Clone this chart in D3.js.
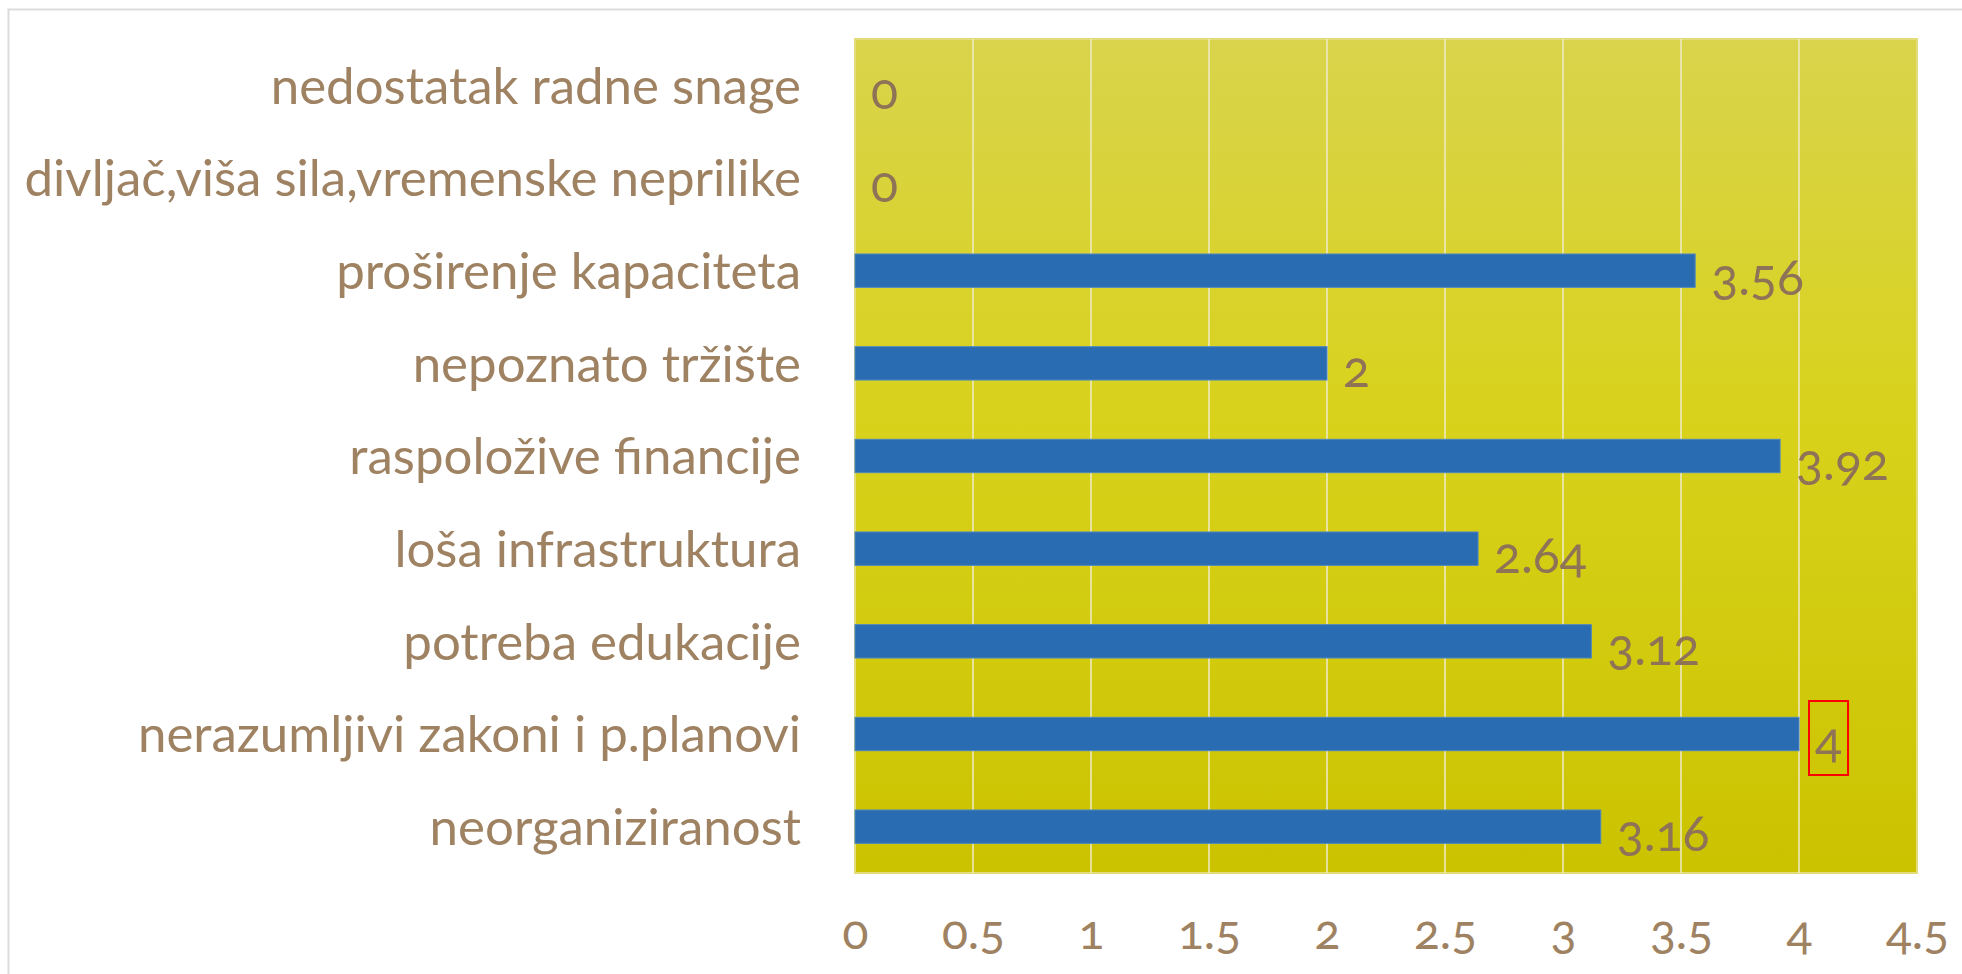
<!DOCTYPE html>
<html>
<head>
<meta charset="utf-8">
<script src="https://cdn.jsdelivr.net/npm/d3@7"></script>
<style>
  body { margin: 0; background: #ffffff; }
  text { font-family: "Lato", "Open Sans", sans-serif; font-variant-numeric: oldstyle-nums; }
</style>
</head>
<body>
<div id="chart"></div>
<script>
// Data, top to bottom
const categories = [
    "nedostatak radne snage",
    "divljač,viša sila,vremenske neprilike",
    "proširenje kapaciteta",
    "nepoznato tržište",
    "raspoložive financije",
    "loša infrastruktura",
    "potreba edukacije",
    "nerazumljivi zakoni i p.planovi",
    "neorganiziranost"
];
const values = [0, 0, 3.56, 2, 3.92, 2.64, 3.12, 4, 3.16];
const xTicks = [0, 0.5, 1, 1.5, 2, 2.5, 3, 3.5, 4, 4.5];

const svgWidth = 1962, svgHeight = 974;
const margin = { top: 39, right: 45, bottom: 101, left: 855 };
const textColor = "#9e8262";

const svg = d3.select("#chart")
    .append("svg")
    .attr("width", svgWidth)
    .attr("height", svgHeight);

// Outer chart border (only top and left are visible)
svg.append("rect")
    .attr("x", 8.5)
    .attr("y", 9.5)
    .attr("width", svgWidth + 20)
    .attr("height", svgHeight + 20)
    .attr("fill", "none")
    .attr("stroke", "#dcdcdc")
    .attr("stroke-width", 2);

// Scales
const x = d3.scaleLinear()
    .domain([0, 4.5])
    .range([margin.left, svgWidth - margin.right]);

const y = d3.scaleBand()
    .domain(categories)
    .range([margin.top, svgHeight - margin.bottom])
    .paddingInner(0.64)
    .paddingOuter(0.32);

// Plot background gradient
const grad = svg.append("defs").append("linearGradient")
    .attr("id", "bg")
    .attr("x1", 0).attr("y1", 0).attr("x2", 0).attr("y2", 1);
grad.append("stop").attr("offset", "0%").attr("stop-color", "#d9d44c");
grad.append("stop").attr("offset", "45%").attr("stop-color", "#d8d21c");
grad.append("stop").attr("offset", "100%").attr("stop-color", "#cbc300");

svg.append("rect")
    .attr("x", x(0))
    .attr("y", margin.top)
    .attr("width", x(4.5) - x(0))
    .attr("height", svgHeight - margin.bottom - margin.top)
    .attr("fill", "url(#bg)")
    .attr("stroke", "#e2dd7a")
    .attr("stroke-width", 2);

// Vertical gridlines
svg.append("g")
    .selectAll("line")
    .data(xTicks.slice(1, -1))
    .enter().append("line")
    .attr("x1", d => x(d))
    .attr("x2", d => x(d))
    .attr("y1", margin.top)
    .attr("y2", svgHeight - margin.bottom)
    .attr("stroke", "#efebc8")
    .attr("stroke-width", 1.5);

// Bars
svg.append("g")
    .selectAll("rect")
    .data(values)
    .enter().append("rect")
    .attr("x", x(0))
    .attr("y", (d, i) => y(categories[i]))
    .attr("width", d => x(d) - x(0))
    .attr("height", y.bandwidth())
    .attr("fill", "#2a6cb1")
    .attr("stroke", d => d > 0 ? "#4f86c2" : "none")
    .attr("stroke-width", 1);

// Value labels
const labels = svg.append("g")
    .selectAll("text")
    .data(values)
    .enter().append("text")
    .attr("x", d => x(d) + 16)
    .attr("y", (d, i) => y(categories[i]) + y.bandwidth() / 2)
    .attr("dy", "0.48em")
    .attr("fill", "#8f7356")
    .attr("font-size", 50)
    .text(d => d);

// Red selection box around the label of the largest value
const maxIdx = values.indexOf(d3.max(values));
const box = labels.filter((d, i) => i === maxIdx).node().getBBox();
svg.append("rect")
    .attr("x", box.x - 6)
    .attr("y", box.y - 8)
    .attr("width", box.width + 12)
    .attr("height", box.height + 14)
    .attr("fill", "none")
    .attr("stroke", "#ff0000")
    .attr("stroke-width", 2);

// Y axis (category labels)
const yAxis = svg.append("g")
    .attr("transform", `translate(${margin.left}, 0)`)
    .call(d3.axisLeft(y).tickSize(0).tickPadding(54));
yAxis.select(".domain").remove();
yAxis.selectAll("text")
    .attr("font-size", 51)
    .attr("fill", textColor)
    .attr("dy", "0.36em");

// X axis (tick labels only)
const xAxis = svg.append("g")
    .attr("transform", `translate(0, ${svgHeight - margin.bottom})`)
    .call(d3.axisBottom(x).tickValues(xTicks).tickSize(0).tickFormat(d3.format("")));
xAxis.select(".domain").remove();
xAxis.selectAll("text")
    .attr("font-size", 48)
    .attr("fill", textColor)
    .attr("y", 76)
    .attr("dy", 0);
</script>
</body>
</html>
